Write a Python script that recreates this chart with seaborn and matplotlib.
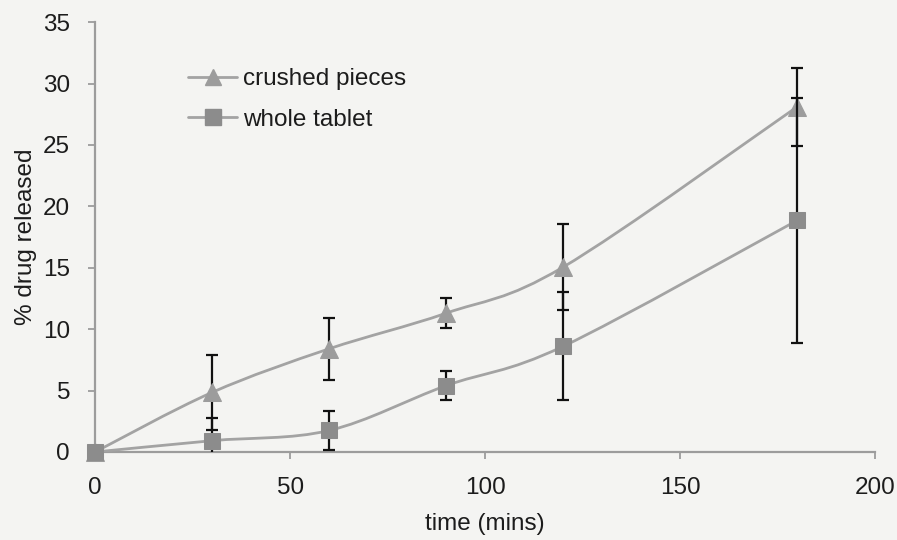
import numpy as np
import pandas as pd
import matplotlib
matplotlib.use("Agg")
import matplotlib.pyplot as plt
from matplotlib.path import Path
from matplotlib.patches import PathPatch
from matplotlib.lines import Line2D
import seaborn as sns

# Dissolution data: time points (min), mean % released and error
time = [0, 30, 60, 90, 120, 180]
crushed = [0, 4.85, 8.4, 11.3, 15.05, 28.1]
crushed_err = [0, 3.05, 2.55, 1.2, 3.5, 3.2]
whole = [0, 0.92, 1.75, 5.4, 8.6, 18.85]
whole_err = [0, 1.85, 1.6, 1.2, 4.4, 10.0]
series_names = ["crushed pieces", "whole tablet"]
x_ticks = [0, 50, 100, 150, 200]
y_ticks = [0, 5, 10, 15, 20, 25, 30, 35]

sns.set_theme(style="white")
plt.rcParams["font.family"] = ["Liberation Sans", "DejaVu Sans"]

BG = "#f4f4f2"
TXT = "#1c1c1c"
AXIS = "#9c9c9c"
LINE = "#a3a3a3"
TRI = "#9c9c9c"
SQR = "#8c8c8c"
FS = 17.5

df = pd.DataFrame({
    "time": time * 2,
    "value": crushed + whole,
    "err": crushed_err + whole_err,
    "series": [series_names[0]] * len(time) + [series_names[1]] * len(time),
})

fig = plt.figure(figsize=(8.97, 5.40), dpi=100, facecolor=BG)
ax = fig.add_axes([0.106, 0.163, 0.8695, 0.796])
ax.set_facecolor(BG)


def smooth_path(xs, ys):
    """Bezier path through the points, spreadsheet-style smoothed line."""
    pts = np.column_stack([xs, ys]).astype(float)
    n = len(pts)
    verts = [pts[0]]
    codes = [Path.MOVETO]
    for i in range(n - 1):
        p0 = pts[i - 1] if i > 0 else pts[i]
        p1 = pts[i]
        p2 = pts[i + 1]
        p3 = pts[i + 2] if i + 2 < n else pts[i + 1]
        c1 = p1 + (p2 - p0) / 6.0
        c2 = p2 - (p3 - p1) / 6.0
        verts += [c1, c2, p2]
        codes += [Path.CURVE4] * 3
    return Path(verts, codes)


styles = {
    series_names[0]: dict(marker="^", color=TRI, size=13),
    series_names[1]: dict(marker="s", color=SQR, size=12),
}

zorder = 3
for name in series_names:
    sub = df[df["series"] == name]
    st = styles[name]
    mask = sub["err"] > 0
    ax.errorbar(sub["time"][mask], sub["value"][mask], yerr=sub["err"][mask],
                fmt="none", ecolor="#111111", elinewidth=1.6, capsize=4,
                capthick=1.6, zorder=zorder)
    patch = PathPatch(smooth_path(sub["time"], sub["value"]), facecolor="none",
                      edgecolor=LINE, lw=2.0, zorder=zorder + 0.5)
    ax.add_patch(patch)
    sns.lineplot(data=sub, x="time", y="value", ax=ax, linestyle="",
                 marker=st["marker"], markersize=st["size"], color=st["color"],
                 markeredgecolor=st["color"], legend=False, zorder=zorder + 1,
                 clip_on=False, errorbar=None)
    zorder += 2

ax.set_xlim(0, 200)
ax.set_ylim(0, 35)
ax.set_xticks(x_ticks)
ax.set_yticks(y_ticks)
ax.set_xlabel("time (mins)", fontsize=FS, color=TXT, labelpad=10)
ax.set_ylabel("% drug released", fontsize=FS, color=TXT, labelpad=4)

for side in ["top", "right"]:
    ax.spines[side].set_visible(False)
for side in ["left", "bottom"]:
    ax.spines[side].set_color(AXIS)
    ax.spines[side].set_linewidth(1.6)

ax.tick_params(axis="x", direction="out", length=5, width=1.3, color=AXIS,
               labelsize=FS, labelcolor=TXT, pad=13, bottom=True)
ax.tick_params(axis="y", direction="out", length=5, width=1.3, color=AXIS,
               labelsize=FS, labelcolor=TXT, pad=13, left=True)

handles = [
    Line2D([], [], color=LINE, lw=2.0, marker=styles[n]["marker"],
           markersize=styles[n]["size"] - 1, markerfacecolor=styles[n]["color"],
           markeredgecolor=styles[n]["color"])
    for n in series_names
]
leg = ax.legend(handles, series_names, loc="upper left",
                bbox_to_anchor=(0.107, 0.915), frameon=False, fontsize=FS,
                handlelength=2.0, handletextpad=0.25, labelspacing=0.75,
                borderaxespad=0)
for t in leg.get_texts():
    t.set_color(TXT)

fig.savefig("out.png", dpi=100, facecolor=BG)
